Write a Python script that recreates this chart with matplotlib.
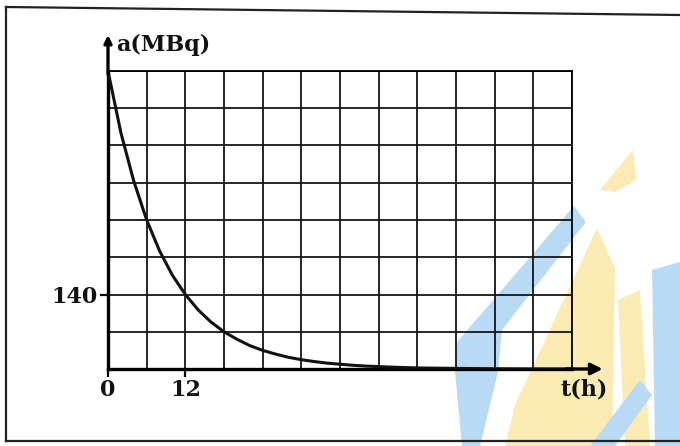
import matplotlib.pyplot as plt
from matplotlib.patches import Polygon
import numpy as np

# lecture du graphe : activité a (MBq) en fonction du temps t (h)
t_h = [0, 2, 4, 6, 8, 10, 12, 14, 16, 18, 20, 22, 24, 26, 28, 30, 32, 34, 36,
       38, 40, 44, 48, 52, 56, 60, 64, 68, 72]
a_mbq = [560, 444, 353, 280, 222, 176, 140, 111, 88, 70, 56, 44, 35, 28, 22,
         17.5, 14, 11, 9, 7, 5.5, 3.5, 2, 1.4, 0.9, 0.5, 0.3, 0.2, 0.1]

t_ticks = [0, 12]
a_ticks = [140]
t_step, t_max = 6, 72
a_step, a_max = 70, 560

font = dict(family='DejaVu Serif', fontweight='bold', fontsize=16, color='#111111')

fig = plt.figure(figsize=(6.8, 4.46), dpi=100)

# fond : cadre + filigrane (coordonnées pixels)
bg = fig.add_axes([0, 0, 1, 1])
bg.set_xlim(0, 680)
bg.set_ylim(446, 0)
bg.axis('off')

blue = '#b8daf4'
yellow = '#fbebb3'
watermark = [
    (blue, [(455, 372), (457, 342), (574, 206), (586, 222), (502, 330), (498, 372)]),
    (blue, [(455, 372), (498, 372), (480, 446), (462, 446)]),
    (yellow, [(505, 446), (515, 405), (597, 228), (615, 268), (612, 446)]),
    (yellow, [(618, 300), (640, 290), (650, 446), (625, 446)]),
    (yellow, [(600, 190), (633, 150), (636, 180), (615, 192)]),
    (blue, [(652, 270), (680, 262), (680, 446), (655, 446)]),
    (blue, [(590, 446), (640, 380), (652, 395), (615, 446)]),
]
for col, pts in watermark:
    bg.add_patch(Polygon(pts, closed=True, facecolor=col, edgecolor='none'))

bg.plot([6, 680], [7, 15], color='#222222', lw=1.6)
bg.plot([6, 6], [7, 441], color='#222222', lw=1.6)
bg.plot([6, 680], [441, 441], color='#222222', lw=1.6)

# graphe
ax = fig.add_axes([108 / 680, 77 / 446, 464 / 680, 298 / 446])
ax.patch.set_alpha(0)
ax.set_xlim(0, t_max)
ax.set_ylim(0, a_max)

ax.set_xticks(np.arange(0, t_max + 1, t_step), minor=True)
ax.set_yticks(np.arange(0, a_max + 1, a_step), minor=True)
ax.set_xticks(t_ticks)
ax.set_yticks(a_ticks)
ax.set_xticklabels([str(v) for v in t_ticks], **font)
ax.set_yticklabels([str(v) for v in a_ticks], **font)
ax.tick_params(which='minor', length=0)
ax.tick_params(which='major', length=6, width=1.6, color='black', pad=1.5)
ax.grid(True, which='both', color='#151515', lw=1.3)

for side in ['top', 'right']:
    ax.spines[side].set_linewidth(1.3)
for side in ['left', 'bottom']:
    ax.spines[side].set_linewidth(2.4)

ax.plot(t_h, a_mbq, color='#111111', lw=2.2, solid_capstyle='round', zorder=3)

# flèches des axes
ax.annotate('', xy=(0, a_max * 1.13), xytext=(0, a_max * 0.98),
            arrowprops=dict(arrowstyle='-|>', lw=2.4, color='black', mutation_scale=11),
            annotation_clip=False)
ax.annotate('', xy=(t_max * 1.072, 0), xytext=(t_max * 0.98, 0),
            arrowprops=dict(arrowstyle='-|>', lw=2.4, color='black', mutation_scale=17),
            annotation_clip=False)

ax.text(1.3, a_max * 1.088, 'a(MBq)', ha='left', va='center', **font)
ax.text(t_max * 1.026, -a_max * 0.07, 't(h)', ha='center', va='center', **font)

fig.savefig('out.png', dpi=100)
